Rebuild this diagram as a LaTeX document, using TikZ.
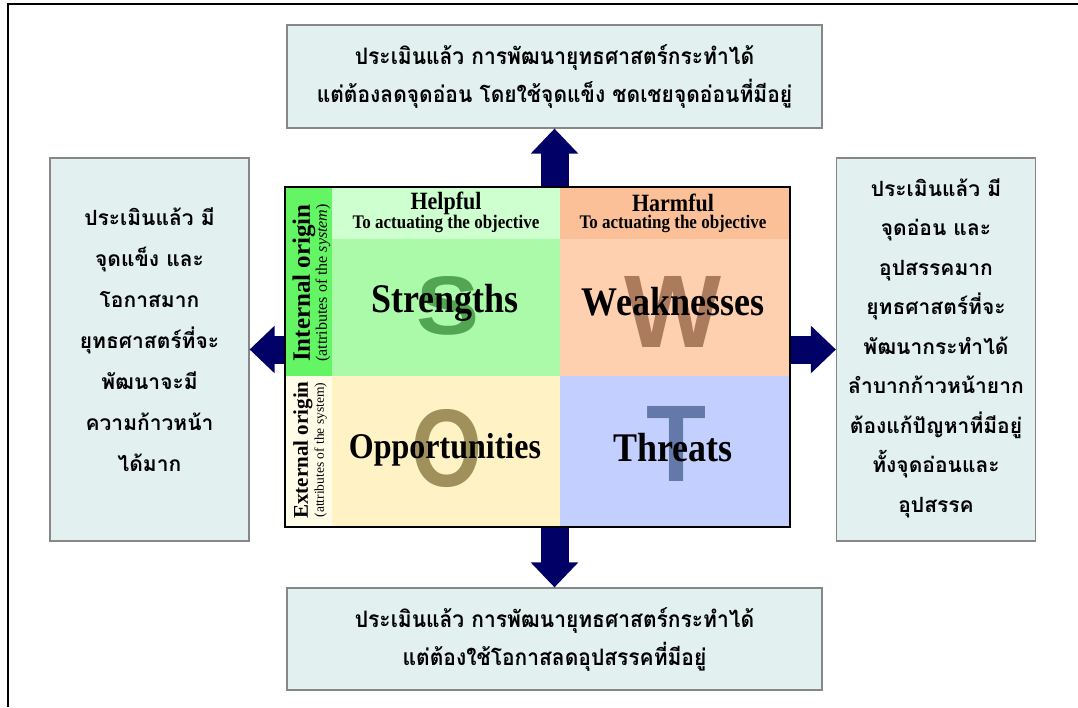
\documentclass[tikz,border=0pt]{standalone}
\usepackage{fontspec}
\setmainfont{Liberation Serif}
\setsansfont{Liberation Sans}
\newfontfamily\thaifont[Script=Thai]{Loma}
\usetikzlibrary{arrows.meta}
\definecolor{boxfill}{RGB}{226,240,240}
\definecolor{boxline}{RGB}{135,135,135}
\definecolor{navy}{RGB}{0,0,102}
\definecolor{intcol}{RGB}{100,245,100}
\definecolor{extcol}{RGB}{255,253,232}
\definecolor{helphead}{RGB}{206,255,206}
\definecolor{strcol}{RGB}{170,250,170}
\definecolor{harmhead}{RGB}{252,192,152}
\definecolor{weakcol}{RGB}{255,208,176}
\definecolor{oppcol}{RGB}{255,242,196}
\definecolor{thrcol}{RGB}{195,208,255}
\definecolor{Scol}{RGB}{82,165,82}
\definecolor{Wcol}{RGB}{172,122,92}
\definecolor{Ocol}{RGB}{160,145,92}
\definecolor{Tcol}{RGB}{100,120,170}
\newcommand{\tallw}[1]{\scalebox{1}[1.13]{#1}}
\tikzset{
  infobox/.style={draw=boxline, line width=1.2pt, fill=boxfill, inner sep=0pt, align=center},
  thaitext/.style={align=center, inner sep=0pt},
  blockarrow/.style={draw=navy, line width=28pt, -{Triangle[width=46pt,length=25pt]}, fill=navy},
  word/.style={font=\bfseries\fontsize{36}{40}\selectfont, inner sep=0pt},
  bigletter/.style={inner sep=0pt},
}
\begin{document}
\begin{tikzpicture}[x=1pt,y=-1pt]
\useasboundingbox (0,0) rectangle (1078,707);
% outer frame
\draw[line width=2pt] (8,707) -- (8,4) -- (1078,4);

% info boxes
\node[infobox, minimum width=535pt, minimum height=103pt] (top) at (554.5,76.5) {};
\node[thaitext, font=\thaifont\bfseries\fontsize{21}{38}\selectfont] (toptext) at (top.center) {\scalebox{1}[1.08]{ประเมินแล้ว การพัฒนายุทธศาสตร์กระทำได้}\\\scalebox{1}[1.08]{แต่ต้องลดจุดอ่อน โดยใช้จุดแข็ง ชดเชยจุดอ่อนที่มีอยู่}};

\node[infobox, minimum width=535pt, minimum height=102pt] (bot) at (554.5,639) {};
\node[thaitext, font=\thaifont\bfseries\fontsize{21}{38}\selectfont] (bottext) at (bot.center) {\scalebox{1}[1.08]{ประเมินแล้ว การพัฒนายุทธศาสตร์กระทำได้}\\\scalebox{1}[1.08]{แต่ต้องใช้โอกาสลดอุปสรรคที่มีอยู่}};

\node[infobox, minimum width=199pt, minimum height=383pt] (left) at (149.5,349.5) {};
\node[thaitext, font=\thaifont\bfseries\fontsize{21}{41}\selectfont] (lefttext) at (149.5,340) {ประเมินแล้ว มี\\จุดแข็ง และ\\โอกาสมาก\\ยุทธศาสตร์ที่จะ\\พัฒนาจะมี\\ความก้าวหน้า\\ได้มาก};

\node[infobox, minimum width=199pt, minimum height=383pt] (right) at (936,349.5) {};
\node[thaitext, font=\thaifont\bfseries\fontsize{21}{39.5}\selectfont] (righttext) at (936,348) {ประเมินแล้ว มี\\จุดอ่อน และ\\อุปสรรคมาก\\ยุทธศาสตร์ที่จะ\\พัฒนากระทำได้\\ลำบากก้าวหน้ายาก\\ต้องแก้ปัญหาที่มีอยู่\\ทั้งจุดอ่อนและ\\อุปสรรค};

% SWOT grid cells
\fill[intcol] (285,187) rectangle (332,376);
\fill[extcol] (285,376) rectangle (332,527);
\fill[helphead] (332,187) rectangle (560,239);
\fill[harmhead] (560,187) rectangle (790,239);
\fill[strcol] (332,239) rectangle (560,376);
\fill[weakcol] (560,239) rectangle (790,376);
\fill[oppcol] (332,376) rectangle (560,527);
\fill[thrcol] (560,376) rectangle (790,527);

% big letters
\node[bigletter, text=Scol] (bigS) at (448,306) {\resizebox{63pt}{58pt}{\sffamily\bfseries S}};
\node[bigletter, text=Wcol] (bigW) at (673,312) {\resizebox{97pt}{71pt}{\sffamily\bfseries W}};
\node[bigletter, text=Ocol] (bigO) at (447.5,448) {\resizebox{71pt}{77pt}{\sffamily\bfseries O}};
\node[bigletter, text=Tcol] (bigT) at (677,444) {\resizebox{60pt}{75pt}{\sffamily\bfseries T}};

% words
\node[word] (str) at (445,303) {\tallw{Strengths}};
\node[word] (weak) at (673,302) {\tallw{Weaknesses}};
\node[word, font=\bfseries\fontsize{32}{36}\selectfont] (opp) at (445,450) {\tallw{Opportunities}};
\node[word] (thr) at (673,448) {\tallw{Threats}};

% headers
\node[inner sep=0pt, font=\bfseries\fontsize{22}{24}\selectfont] (helpful) at (446,203) {\tallw{Helpful}};
\node[inner sep=0pt, font=\bfseries\fontsize{17}{19}\selectfont] (helpsub) at (446,224) {\tallw{To actuating the objective}};
\node[inner sep=0pt, font=\bfseries\fontsize{22}{24}\selectfont] (harmful) at (673,203) {\tallw{Harmful}};
\node[inner sep=0pt, font=\bfseries\fontsize{17}{19}\selectfont] (harmsub) at (673,224) {\tallw{To actuating the objective}};

% side labels
\node[inner sep=0pt, rotate=90, font=\bfseries\fontsize{25}{27}\selectfont] (intl) at (304,283) {Internal origin};
\node[inner sep=0pt, rotate=90, font=\fontsize{16}{18}\selectfont] (intsub) at (323,283) {(attributes of the \textit{system})};
\node[inner sep=0pt, rotate=90, font=\bfseries\fontsize{21}{22}\selectfont] (extl) at (303,450) {External origin};
\node[inner sep=0pt, rotate=90, font=\fontsize{13.5}{15}\selectfont] (extsub) at (320.5,450) {(attributes of the system)};

% grid frame
\node[draw=black, line width=2.5pt, minimum width=505pt, minimum height=340pt, inner sep=0pt] (grid) at (537.5,357) {};

% block arrows
\draw[blockarrow] (grid.north -| top.south) -- (top.south);
\draw[blockarrow] (grid.south -| bot.north) -- (bot.north);
\draw[blockarrow] (grid.west |- left.east) -- (left.east);
\draw[blockarrow] (grid.east |- right.west) -- (right.west);
\end{tikzpicture}
\end{document}
